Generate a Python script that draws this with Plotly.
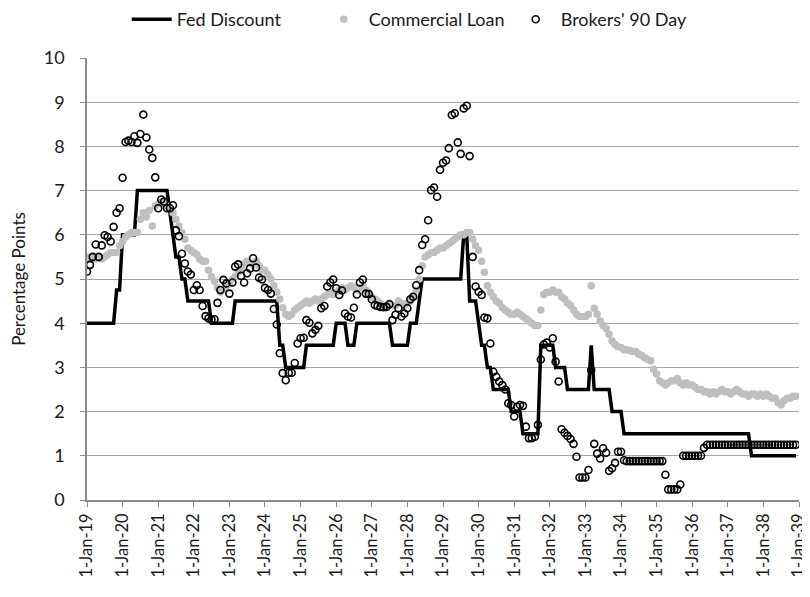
import pandas as pd
import plotly.graph_objects as go

# ---- data (monthly, Jan 1919 - Dec 1938) ----
year_ticks = [f"{y}-01-01" for y in range(1919, 1940)]

fed_discount = [
    4, 4, 4, 4, 4, 4, 4, 4, 4, 4, 4.75, 4.75,            # 1919
    6, 6, 6, 6, 6, 7, 7, 7, 7, 7, 7, 7,                   # 1920
    7, 7, 7, 7, 6.5, 6, 5.5, 5.5, 5, 5, 4.5, 4.5,         # 1921
    4.5, 4.5, 4.5, 4.5, 4.5, 4.5, 4, 4, 4, 4, 4, 4,       # 1922
    4, 4, 4.5, 4.5, 4.5, 4.5, 4.5, 4.5, 4.5, 4.5, 4.5, 4.5,  # 1923
    4.5, 4.5, 4.5, 4.5, 4.5, 3.5, 3.5, 3, 3, 3, 3, 3,     # 1924
    3, 3, 3.5, 3.5, 3.5, 3.5, 3.5, 3.5, 3.5, 3.5, 3.5, 3.5,  # 1925
    4, 4, 4, 4, 3.5, 3.5, 3.5, 4, 4, 4, 4, 4,             # 1926
    4, 4, 4, 4, 4, 4, 4, 3.5, 3.5, 3.5, 3.5, 3.5,         # 1927
    3.5, 4, 4, 4, 4.5, 5, 5, 5, 5, 5, 5, 5,               # 1928
    5, 5, 5, 5, 5, 5, 5, 6, 6, 4.5, 4.5, 4.5,             # 1929
    4, 3.5, 3.5, 3, 3, 2.5, 2.5, 2.5, 2.5, 2.5, 2.5, 2,   # 1930
    2, 2, 2, 1.5, 1.5, 1.5, 1.5, 1.5, 1.5, 3.5, 3.5, 3.5,  # 1931
    3.5, 3.5, 3, 3, 3, 3, 2.5, 2.5, 2.5, 2.5, 2.5, 2.5,   # 1932
    2.5, 2.5, 3.5, 2.5, 2.5, 2.5, 2.5, 2.5, 2.5, 2, 2, 2,  # 1933
    2, 1.5, 1.5, 1.5, 1.5, 1.5, 1.5, 1.5, 1.5, 1.5, 1.5, 1.5,  # 1934
    1.5, 1.5, 1.5, 1.5, 1.5, 1.5, 1.5, 1.5, 1.5, 1.5, 1.5, 1.5,  # 1935
    1.5, 1.5, 1.5, 1.5, 1.5, 1.5, 1.5, 1.5, 1.5, 1.5, 1.5, 1.5,  # 1936
    1.5, 1.5, 1.5, 1.5, 1.5, 1.5, 1.5, 1.5, 1, 1, 1, 1,   # 1937
    1, 1, 1, 1, 1, 1, 1, 1, 1, 1, 1, 1,                   # 1938
]

commercial_loan = [
    5.5, 5.45, 5.5, 5.45, 5.5, 5.45, 5.5, 5.55, 5.6, 5.6, 5.6, 5.75,
    5.85, 5.95, 6.0, 6.05, 6.05, 6.05, 6.35, 6.5, 6.4, 6.55, 6.2, 6.65,
    6.7, 6.75, 6.7, 6.65, 6.6, 6.5, 6.35, 6.2, 6.05, 5.9, 5.7, 5.65,
    5.6, 5.55, 5.45, 5.4, 5.4, 5.2, 5.05, 4.95, 4.8, 4.7, 4.75, 4.85,
    4.9, 5.0, 5.05, 5.15, 5.25, 5.35, 5.4, 5.35, 5.35, 5.4, 5.3, 5.2,
    5.2, 5.1, 5.0, 4.85, 4.7, 4.55, 4.35, 4.2, 4.15, 4.2, 4.3, 4.35,
    4.4, 4.45, 4.5, 4.45, 4.5, 4.55, 4.5, 4.55, 4.6, 4.65, 4.7, 4.65,
    4.7, 4.75, 4.8, 4.75, 4.8, 4.85, 4.8, 4.75, 4.8, 4.85, 4.75, 4.7,
    4.6, 4.55, 4.5, 4.45, 4.4, 4.4, 4.45, 4.4, 4.4, 4.5, 4.45, 4.4,
    4.45, 4.5, 4.6, 4.75, 5.0, 5.3, 5.5, 5.55, 5.6, 5.6, 5.65, 5.7,
    5.7, 5.75, 5.8, 5.85, 5.9, 5.95, 6.0, 6.0, 6.05, 6.05, 5.9, 5.75,
    5.65, 5.4, 5.15, 4.85, 4.7, 4.6, 4.5, 4.45, 4.35, 4.3, 4.25, 4.2,
    4.2, 4.25, 4.2, 4.15, 4.1, 4.05, 4.0, 3.95, 3.95, 4.3, 4.65, 4.7,
    4.7, 4.75, 4.7, 4.7, 4.6, 4.55, 4.45, 4.4, 4.3, 4.2, 4.15, 4.15,
    4.15, 4.2, 4.85, 4.34, 4.2, 4.05, 3.95, 3.88, 3.75, 3.6, 3.52, 3.47,
    3.45, 3.4, 3.4, 3.38, 3.36, 3.36, 3.3, 3.27, 3.22, 3.18, 3.15, 2.96,
    2.85, 2.7, 2.65, 2.6, 2.65, 2.7, 2.7, 2.75, 2.65, 2.6, 2.65, 2.6,
    2.6, 2.55, 2.5, 2.5, 2.45, 2.45, 2.4, 2.45, 2.4, 2.45, 2.5, 2.45,
    2.45, 2.4, 2.45, 2.5, 2.45, 2.4, 2.4, 2.35, 2.4, 2.4, 2.35, 2.4,
    2.35, 2.4, 2.35, 2.3, 2.3, 2.2, 2.15, 2.25, 2.3, 2.3, 2.35, 2.35,
]

brokers_90_day = [
    5.17, 5.32, 5.5, 5.78, 5.5, 5.76, 5.99, 5.95, 5.85, 6.18, 6.5, 6.6,
    7.29, 8.1, 8.13, 8.1, 8.23, 8.08, 8.28, 8.72, 8.2, 7.93, 7.74, 7.3,
    6.6, 6.8, 6.75, 6.6, 6.6, 6.67, 6.1, 5.97, 5.57, 5.35, 5.17, 5.1,
    4.75, 4.86, 4.75, 4.39, 4.16, 4.11, 4.08, 4.09, 4.46, 4.75, 4.98, 4.9,
    4.67, 4.92, 5.28, 5.33, 5.07, 4.92, 5.13, 5.24, 5.47, 5.26, 5.03, 4.99,
    4.8, 4.75, 4.67, 4.32, 3.97, 3.32, 2.87, 2.71, 2.88, 2.88, 3.1, 3.54,
    3.66, 3.67, 4.07, 4.01, 3.77, 3.85, 3.94, 4.34, 4.39, 4.83, 4.92, 4.99,
    4.79, 4.64, 4.74, 4.22, 4.15, 4.13, 4.35, 4.65, 4.92, 4.99, 4.67, 4.66,
    4.54, 4.41, 4.39, 4.37, 4.36, 4.37, 4.43, 4.07, 4.19, 4.34, 4.15, 4.22,
    4.34, 4.54, 4.6, 4.86, 5.2, 5.77, 5.9, 6.33, 7.01, 7.07, 6.86, 7.47,
    7.63, 7.68, 7.96, 8.71, 8.75, 8.09, 7.83, 8.86, 8.92, 7.78, 5.5, 4.83,
    4.71, 4.64, 4.13, 4.11, 3.54, 2.9, 2.79, 2.68, 2.6, 2.5, 2.19, 2.15,
    1.89, 2.11, 2.15, 2.13, 1.66, 1.4, 1.4, 1.43, 1.7, 3.18, 3.52, 3.56,
    3.45, 3.66, 3.13, 2.68, 1.6, 1.52, 1.45, 1.38, 1.27, 0.98, 0.51, 0.51,
    0.51, 0.68, 2.94, 1.27, 1.05, 0.94, 1.17, 1.07, 0.66, 0.72, 0.84, 1.09,
    1.09, 0.9, 0.88, 0.88, 0.88, 0.88, 0.88, 0.88, 0.88, 0.88, 0.88, 0.88,
    0.88, 0.88, 0.88, 0.57, 0.24, 0.24, 0.24, 0.24, 0.35, 1.0, 1.0, 1.0,
    1.0, 1.0, 1.0, 1.0, 1.18, 1.25, 1.25, 1.25, 1.25, 1.25, 1.25, 1.25,
    1.25, 1.25, 1.25, 1.25, 1.25, 1.25, 1.25, 1.25, 1.25, 1.25, 1.25, 1.25,
    1.25, 1.25, 1.25, 1.25, 1.25, 1.25, 1.25, 1.25, 1.25, 1.25, 1.25, 1.25,
]

dates = pd.date_range("1919-01-01", periods=len(fed_discount), freq="MS")

FONT = "Lato, 'Open Sans', sans-serif"

fig = go.Figure()
fig.add_trace(go.Scatter(
    x=dates, y=fed_discount, name="Fed Discount", mode="lines",
    line=dict(color="black", width=3.5),
))
fig.add_trace(go.Scatter(
    x=dates, y=commercial_loan, name="Commercial Loan", mode="markers",
    marker=dict(color="#bfbfbf", size=7.5, line=dict(width=0)),
))
fig.add_trace(go.Scatter(
    x=dates, y=brokers_90_day, name="Brokers' 90 Day", mode="markers",
    marker=dict(symbol="circle-open", color="black", size=7, line=dict(width=1.6)),
))

# page body has an 8px default margin, so the figure is 8px smaller
fig.update_layout(
    width=802, height=589,
    margin=dict(l=79, r=11, t=50, b=97, autoexpand=False),
    paper_bgcolor="white", plot_bgcolor="white",
    font=dict(family=FONT, size=17, color="#1a1a1a"),
    showlegend=True,
    legend=dict(orientation="h", xref="container", yref="container",
                x=0.148, xanchor="left", y=0.9805, yanchor="middle",
                font=dict(size=18), entrywidth=137, itemwidth=40,
                itemsizing="trace", bgcolor="rgba(0,0,0,0)"),
    xaxis=dict(
        type="date", range=["1919-01-01", "1939-01-01"],
        tickvals=year_ticks, tickformat="%-d-%b-%y", tickangle=-90,
        ticks="outside", ticklen=5, tickcolor="#8a8a8a",
        showline=True, linecolor="#8a8a8a", linewidth=1.5,
        showgrid=False, zeroline=False, tickfont=dict(size=16.5),
        automargin=False, ticklabeloverflow="allow",
    ),
    yaxis=dict(
        range=[0, 10], dtick=1, tick0=0,
        ticks="outside", ticklen=5, tickcolor="#8a8a8a",
        showline=True, linecolor="#8a8a8a", linewidth=1.5,
        showgrid=True, gridcolor="#a6a6a6", gridwidth=1,
        zeroline=False, tickfont=dict(size=18), ticklabelstandoff=12,
        automargin=False,
        title=dict(text="Percentage Points", font=dict(size=17), standoff=14),
    ),
)

fig.write_html("out.html")
